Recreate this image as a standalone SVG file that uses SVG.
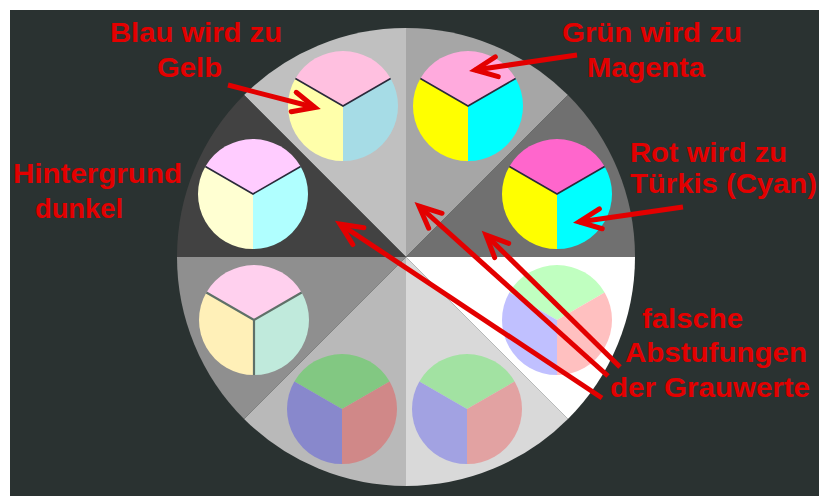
<svg xmlns="http://www.w3.org/2000/svg" width="819" height="496" viewBox="0 0 819 496">
<style>
.lbl{font-family:"Liberation Sans",Arial,sans-serif;font-weight:bold;font-size:27px;fill:#e30000}
.arr{stroke:#e30000;stroke-width:5;fill:none;marker-end:url(#ah)}
.dl{stroke:#2a2a3a;stroke-width:1.6;fill:none}
.gl{stroke:#5f7068;stroke-width:2.2;fill:none}
</style>
<defs>
<marker id="ah" markerUnits="userSpaceOnUse" markerWidth="40" markerHeight="40" viewBox="-30 -20 40 40" refX="0" refY="0" orient="auto">
<path d="M-22,-10 L0,0 L-22,10" fill="none" stroke="#e30000" stroke-width="5" stroke-linejoin="miter" stroke-linecap="round"/>
</marker>
<path id="st" d="M0,0 L-47.63,-27.5 A55,55 0 0 1 47.63,-27.5 Z"/>
<path id="sr" d="M0,0 L47.63,-27.5 A55,55 0 0 1 0,55 Z"/>
<path id="sl" d="M0,0 L0,55 A55,55 0 0 1 -47.63,-27.5 Z"/>
</defs>
<rect width="819" height="496" fill="#ffffff"/>
<rect x="10" y="10" width="809" height="486" fill="#2a3231"/>
<g id="wheel">
<path d="M406,257 L406,28 A229,229 0 0 0 244.07,95.07 Z" fill="#c0c0c0"/>
<path d="M406,257 L244.07,95.07 A229,229 0 0 0 177,257 Z" fill="#424242"/>
<path d="M406,257 L406,28 A229,229 0 0 1 567.93,95.07 Z" fill="#a6a6a6"/>
<path d="M406,257 L567.93,95.07 A229,229 0 0 1 635,257 Z" fill="#707070"/>
<path d="M406,257 L635,257 A229,229 0 0 1 567.93,418.93 Z" fill="#ffffff"/>
<path d="M406,257 L567.93,418.93 A229,229 0 0 1 406,486 Z" fill="#d9d9d9"/>
<path d="M406,257 L406,486 A229,229 0 0 1 244.07,418.93 Z" fill="#b9b9b9"/>
<path d="M406,257 L244.07,418.93 A229,229 0 0 1 177,257 Z" fill="#8f8f8f"/>
</g>
<g id="c-blau" transform="translate(343,106)">
<use href="#st" fill="#ffc0e0"/><use href="#sr" fill="#a6dce6"/><use href="#sl" fill="#ffffaa"/>
<path class="dl" d="M-47.63,-27.5 L0,0 L47.63,-27.5"/>
</g>
<g id="c-hintergrund" transform="translate(253,194)">
<use href="#st" fill="#ffccff"/><use href="#sr" fill="#b0ffff"/><use href="#sl" fill="#ffffd2"/>
<path class="dl" d="M-47.63,-27.5 L0,0 L47.63,-27.5"/>
</g>
<g id="c-gruen" transform="translate(468,106)">
<use href="#st" fill="#ffaadd"/><use href="#sr" fill="#00ffff"/><use href="#sl" fill="#ffff00"/>
<path class="dl" d="M-47.63,-27.5 L0,0 L47.63,-27.5"/>
</g>
<g id="c-rot" transform="translate(557,194)">
<use href="#st" fill="#ff66cc"/><use href="#sr" fill="#00ffff"/><use href="#sl" fill="#ffff00"/>
<path class="dl" d="M-47.63,-27.5 L0,0 L47.63,-27.5"/>
</g>
<g id="c-bl-upper" transform="translate(254,320)">
<use href="#st" fill="#ffd0ee"/><use href="#sr" fill="#c0eadc"/><use href="#sl" fill="#fff0b8"/>
<path class="gl" d="M-47.63,-27.5 L0,0 L47.63,-27.5 M0,0 L0,55"/>
</g>
<g id="c-bl-lower" transform="translate(342,409)">
<use href="#st" fill="#82c882"/><use href="#sr" fill="#d08888"/><use href="#sl" fill="#8888cc"/>
</g>
<g id="c-br-lower" transform="translate(467,409)">
<use href="#st" fill="#a2e2a2"/><use href="#sr" fill="#e2a2a2"/><use href="#sl" fill="#a2a2e2"/>
</g>
<g id="c-br-upper" transform="translate(557,320)">
<use href="#st" fill="#c0ffc0"/><use href="#sr" fill="#ffc0c0"/><use href="#sl" fill="#c0c0ff"/>
</g>
<g id="connectors">
<line class="arr" x1="228" y1="85" x2="315" y2="107.5"/>
<line class="arr" x1="577" y1="55" x2="475" y2="70"/>
<line class="arr" x1="683" y1="207" x2="579" y2="222"/>
<line class="arr" x1="602" y1="398" x2="340" y2="224"/>
<line class="arr" x1="608" y1="376" x2="419" y2="206"/>
<line class="arr" x1="620" y1="367" x2="486" y2="235"/>
</g>
<g id="labels">
<text class="lbl" x="110" y="42" textLength="172" lengthAdjust="spacingAndGlyphs">Blau wird zu</text>
<text class="lbl" x="157" y="77" textLength="65" lengthAdjust="spacingAndGlyphs">Gelb</text>
<text class="lbl" x="562" y="42" textLength="180" lengthAdjust="spacingAndGlyphs">Grün wird zu</text>
<text class="lbl" x="587" y="77" textLength="118" lengthAdjust="spacingAndGlyphs">Magenta</text>
<text class="lbl" x="630" y="162" textLength="157" lengthAdjust="spacingAndGlyphs">Rot wird zu</text>
<text class="lbl" x="630" y="193" textLength="187" lengthAdjust="spacingAndGlyphs">Türkis (Cyan)</text>
<text class="lbl" x="13" y="183" textLength="169" lengthAdjust="spacingAndGlyphs">Hintergrund</text>
<text class="lbl" x="35" y="218" textLength="88" lengthAdjust="spacingAndGlyphs">dunkel</text>
<text class="lbl" x="642" y="328" textLength="101" lengthAdjust="spacingAndGlyphs">falsche</text>
<text class="lbl" x="625" y="362" textLength="182" lengthAdjust="spacingAndGlyphs">Abstufungen</text>
<text class="lbl" x="610" y="397" textLength="200" lengthAdjust="spacingAndGlyphs">der Grauwerte</text>
</g>
</svg>
